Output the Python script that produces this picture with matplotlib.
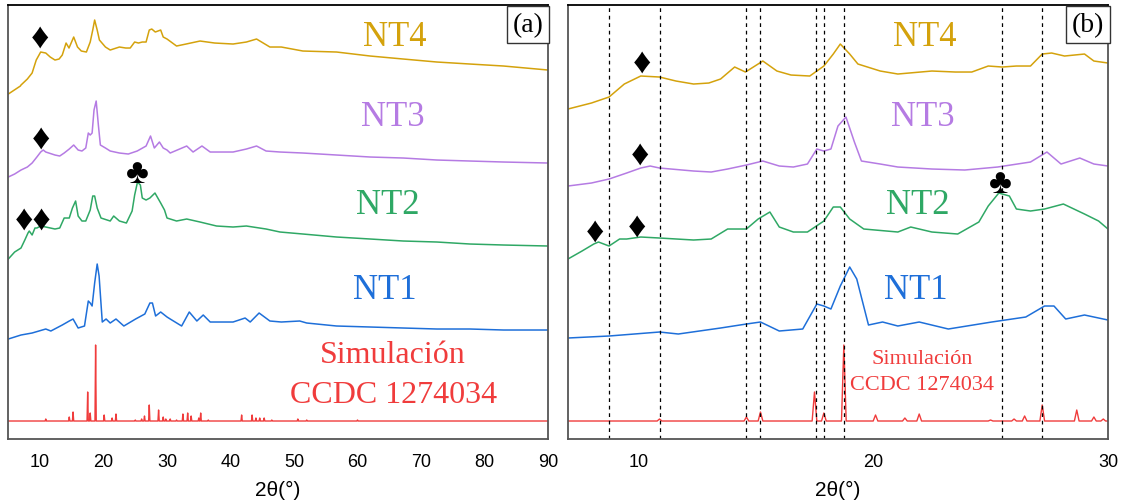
import matplotlib
matplotlib.use("Agg")
import matplotlib.pyplot as plt
import numpy as np

# XRD patterns, intensities in arbitrary units
nt4_x = [5.0, 6.9, 7.0, 8.0, 8.75, 9.4, 10.1, 10.9, 11.6, 12.35, 13.0, 13.5, 14.1, 14.56, 15.3, 15.9,
         16.5, 17.3, 17.9, 18.3, 18.6, 19.0, 19.35, 20.3, 21.05, 22.5, 23.5, 24.2, 24.9, 25.5, 26.1,
         26.7, 27.2, 27.6, 28.15, 29.0, 29.4, 30.0, 31.5, 33.0, 35.2, 37.5, 40.4, 42.5, 44.1, 46.2,
         48.0, 51.4, 56.7, 62.0, 67.2, 72.5, 77.7, 83.0, 90.0]
nt4_y = [345, 353, 354, 360, 366, 379, 387, 386, 382, 379, 380, 384, 396, 391, 402, 392,
         388, 387, 397, 409, 419, 409, 399, 392, 389, 392, 391, 391, 397, 396, 397,
         397, 409, 410, 407, 409, 402, 400, 393, 395, 398, 396, 395, 397, 400, 392,
         392, 388, 387, 383, 380, 377, 375, 373, 369]

nt3_x = [5.0, 6.0, 7.0, 8.0, 8.75, 9.5, 10.1, 10.5, 10.9, 12.35, 13.1, 13.8, 14.6, 15.3, 16.0, 16.6,
         17.2, 17.6, 17.9, 18.2, 18.5, 18.84, 19.2, 19.5, 20.3, 21.05, 22.5, 23.9, 25.3, 26.7, 27.4,
         28.0, 28.8, 29.4, 30.0, 30.5, 33.1, 34.1, 35.5, 36.8, 40.4, 42.5, 44.1, 45.6, 47.8, 51.4,
         56.7, 62.0, 67.2, 72.5, 77.7, 83.0, 90.0]
nt3_y = [262, 265, 269, 272, 276, 282, 287, 289, 287, 284, 283, 286, 290, 294, 289, 288,
         291, 306, 304, 306, 329, 338, 313, 294, 291, 288, 286, 285, 288, 293, 303,
         291, 297, 291, 289, 286, 293, 287, 293, 287, 287, 290, 293, 288, 287, 286,
         284, 282, 281, 279, 278, 277, 276]

nt2_x = [5.0, 6.0, 7.0, 7.6, 8.1, 8.3, 8.75, 9.2, 9.5, 10.1, 10.9, 12.35, 13.1, 13.8, 14.6, 15.1,
         15.6, 16.0, 16.6, 17.2, 17.9, 18.3, 18.6, 19.0, 19.6, 21.05, 21.6, 22.5, 23.6, 24.5, 24.9,
         25.35, 25.8, 26.1, 26.7, 27.3, 28.1, 29.0, 29.6, 30.0, 31.5, 33.1, 35.2, 37.8, 40.4, 42.5,
         45.6, 47.8, 51.4, 56.7, 62.0, 67.2, 72.5, 77.7, 83.0, 90.0]
nt2_y = [180, 187, 191, 199, 206, 208, 204, 211, 211, 213, 212, 210, 211, 221, 221, 231,
         238, 223, 218, 218, 229, 243, 243, 231, 221, 218, 223, 218, 216, 228, 244,
         257, 254, 241, 239, 241, 246, 236, 229, 221, 218, 220, 217, 213, 212, 213,
         210, 207, 205, 202, 200, 198, 197, 195, 194, 193]

nt1_x = [5.0, 6.0, 7.0, 8.75, 10.9, 11.7, 13.5, 14.6, 15.2, 16.0, 17.0, 17.6, 17.9, 18.2, 18.6, 19.0,
         19.3, 19.8, 20.4, 21.05, 21.96, 23.2, 25.05, 26.5, 27.3, 27.7, 28.2, 29.0, 30.0, 30.5, 32.3,
         33.5, 34.7, 35.7, 36.8, 40.4, 42.3, 43.1, 44.5, 46.2, 48.0, 50.9, 52.0, 56.7, 62.0, 67.2,
         72.5, 77.7, 83.0, 90.0]
nt1_y = [100, 102, 104, 106, 110, 108, 114, 118, 120, 111, 113, 138, 136, 133, 156, 175,
         163, 117, 120, 116, 120, 113, 120, 125, 136, 136, 123, 127, 122, 120, 113,
         127, 118, 124, 117, 117, 121, 117, 126, 118, 117, 118, 116, 113, 112, 111,
         110, 110, 109, 109]

# simulated pattern (CCDC 1274034): peak positions and heights above baseline
sim_base = 18
sim_peaks = [10.9, 14.6, 15.2, 17.5, 17.9, 18.75, 20.1, 21.35, 21.96, 25.0, 26.0, 26.45, 27.2,
             28.67, 29.4, 29.8, 30.5, 31.5, 32.5, 33.25, 33.8, 35.0, 35.3, 36.5, 41.75, 43.4,
             44.0, 44.6, 45.3, 46.5, 50.6, 52.0, 60.0]
sim_heights = [2, 4, 9, 29, 8, 76, 6, 3, 7, 1, 2, 5, 16,
               11, 4, 2, 2, 1, 7, 8, 5, 3, 8, 1, 6, 6,
               3, 3, 3, 1, 2, 1, 1]

sim_x = [5.0]
sim_y = [sim_base]
for p, h in zip(sim_peaks, sim_heights):
    sim_x += [p - 0.1, p, p + 0.1]
    sim_y += [sim_base, sim_base + h, sim_base]
sim_x.append(90.0)
sim_y.append(sim_base)

ref_lines = [8.75, 10.9, 14.6, 15.17, 17.55, 17.9, 18.75, 25.5, 27.2]

c_nt4 = "#D4A20C"
c_nt3 = "#B57BE3"
c_nt2 = "#2FA865"
c_nt1 = "#1E6FD9"
c_sim = "#F03C3C"

serif = ["Liberation Serif", "DejaVu Serif"]
sym_font = ["Liberation Sans", "DejaVu Sans"]
plt.rcParams["font.family"] = ["Liberation Sans", "DejaVu Sans"]

fig = plt.figure(figsize=(11.22, 5.02), dpi=100)
ax1 = fig.add_axes([0.0074, 0.1235, 0.4810, 0.8645])
ax2 = fig.add_axes([0.5062, 0.1235, 0.4813, 0.8645])

# vertical shift of each curve in panel (b)
shift_b = {"nt4": -24, "nt3": -16, "nt2": -11, "nt1": -3}

for ax, sh in [(ax1, {"nt4": 0, "nt3": 0, "nt2": 0, "nt1": 0}), (ax2, shift_b)]:
    ax.plot(nt4_x, np.array(nt4_y) + sh["nt4"], color=c_nt4, lw=1.1)
    ax.plot(nt3_x, np.array(nt3_y) + sh["nt3"], color=c_nt3, lw=1.1)
    ax.plot(nt2_x, np.array(nt2_y) + sh["nt2"], color=c_nt2, lw=1.1)
    ax.plot(nt1_x, np.array(nt1_y) + sh["nt1"], color=c_nt1, lw=1.1)
    ax.plot(sim_x, sim_y, color=c_sim, lw=1.0)
    ax.set_ylim(0, 434)
    ax.set_yticks([])
    ax.tick_params(axis="x", length=0, labelsize=13, pad=10)
    for s in ax.spines.values():
        s.set_color("#555555")
        s.set_linewidth(1.3)
    ax.spines["top"].set_color("black")
    ax.set_xlabel("2θ(°)", fontsize=15, labelpad=7)

ax1.set_xlim(5, 90)
ax1.set_xticks([10, 20, 30, 40, 50, 60, 70, 80, 90])
ax2.set_xlim(7, 30)
ax2.set_xticks([10, 20, 30])

for x in ref_lines:
    ax2.axvline(x, color="black", ls=(0, (3, 3)), lw=0.9)

# curve labels
for ax, xc in [(ax1, 65.8), (ax2, 22.2)]:
    ax.text(xc, 403, "NT4", color=c_nt4, fontsize=25, family=serif, ha="center", va="center")
    ax.text(xc - 0.1 if ax is ax2 else xc - 0.3, 323, "NT3", color=c_nt3, fontsize=25, family=serif,
            ha="center", va="center")
    ax.text(xc - 0.3 if ax is ax2 else xc - 1.0, 235, "NT2", color=c_nt2, fontsize=25, family=serif,
            ha="center", va="center")
    ax.text(xc - 0.4 if ax is ax2 else xc - 1.5, 150, "NT1", color=c_nt1, fontsize=25, family=serif,
            ha="center", va="center")
ax1.text(65.6, 85, "Simulación", color=c_sim, fontsize=23, family=serif, ha="center", va="center")
ax1.text(65.6, 45, "CCDC 1274034", color=c_sim, fontsize=23, family=serif, ha="center", va="center")
ax2.text(22.1, 81, "Simulación", color=c_sim, fontsize=16, family=serif, ha="center", va="center")
ax2.text(22.1, 55, "CCDC 1274034", color=c_sim, fontsize=16, family=serif, ha="center", va="center")

# phase markers (the two adjacent NT2 diamonds in panel a share one text)
diamond_a = [(10.0, 402, "♦"), (10.1, 301, "♦"), (8.9, 220, "♦♦")]
diamond_b = [(10.15, 377, "♦"), (10.05, 285, "♦"), (8.15, 208, "♦"), (9.95, 213, "♦")]
for (ax, pts, club) in [(ax1, diamond_a, (25.3, 267)), (ax2, diamond_b, (25.4, 257))]:
    for x, y, sym in pts:
        ax.text(x, y, sym, fontsize=26, color="black", ha="center", va="center", family=sym_font)
    ax.text(club[0], club[1], "♣", fontsize=25, color="black", ha="center", va="center", family=sym_font)

for ax, lab in [(ax1, "(a)"), (ax2, "(b)")]:
    ax.text(0.963, 0.955, lab, transform=ax.transAxes, fontsize=20, family=serif,
            ha="center", va="center",
            bbox=dict(boxstyle="square,pad=0.2", fc="white", ec="#333333", lw=1.0))

fig.savefig("out.png", dpi=100)
